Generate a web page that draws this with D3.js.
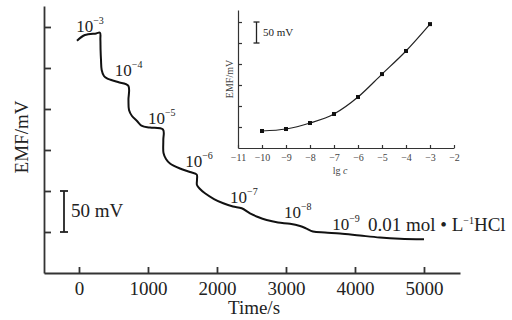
<!DOCTYPE html>
<html><head><meta charset="utf-8">
<script src="https://cdn.jsdelivr.net/npm/d3@7"></script>
<style>body{margin:0;background:#fff}svg{display:block}text{font-family:"Liberation Serif","Times New Roman",serif}</style>
</head><body><svg id="c" width="512" height="320"></svg>
<script>
// Main trace: time (s) vs EMF (mV, relative)
const mainTime = [-29,87,250,304,310,313,319,329,362,406,565,714,717,725,768,841,913,1029,1217,1222,1225,1261,1319,1464,1609,1706,1710,1710,1754,1826,1957,2091,2232,2358,2478,2594,2720,2884,3058,3203,3290,3391,3565,3783,4072,4362,4652,5000];
const mainEMF  = [233.3,240.2,242.2,243.0,235,221.9,210,197.6,190.2,187.2,182.9,178.4,161,148.8,141.5,135.4,129.3,127.4,125,112,96.3,89,83.5,77.4,73.2,70.1,63.4,57.3,52.4,47.2,40.2,35,31.1,28.9,22.8,18.3,14.6,11.6,10,7.3,4.5,0.6,-0.7,-1.8,-4.3,-6.7,-8.2,-8.9];
const mainXTicks = [0,1000,2000,3000,4000,5000];
const mainYTicks = [0,50,100,150,200,250];
// Concentration step labels (exponent, time, EMF where label sits)
const stepExp  = ["−3","−4","−5","−6","−7","−8","−9"];
const stepTime = [-40,520,1000,1540,2190,2970,3670];
const stepEMF  = [244,190,132,79,35,17,2.5];
// Inset: lg c vs EMF
const insetLgC = [-10,-9,-8,-7,-6,-5,-4,-3];
const insetEMF = [40.5,45.2,59.5,81,121.4,176,231,295];
const insetXTicks = [-11,-10,-9,-8,-7,-6,-5,-4,-3,-2];
const insetYTicks = [50,100,150,200,250,300];

const svg = d3.select("#c");
const axisCol = "#333";

// ---------- main chart ----------
const x = d3.scaleLinear().domain([-507,5522]).range([44,460]);
const y = d3.scaleLinear().domain([-50,275.6]).range([273,6]);

const gx = svg.append("g").attr("transform",`translate(0,${y(-50)})`)
  .call(d3.axisBottom(x).tickValues(mainXTicks).tickSizeInner(-6).tickSizeOuter(0).tickPadding(13).tickFormat(d3.format("d")));
gx.select(".domain").attr("stroke",axisCol).attr("stroke-width",1.8);
gx.selectAll(".tick line").attr("stroke",axisCol).attr("stroke-width",1.8);
gx.selectAll("text").attr("font-size",19).attr("fill","#222").attr("dy","0.71em").attr("y",9);

const gy = svg.append("g").attr("transform",`translate(${x(-507)},0)`)
  .call(d3.axisLeft(y).tickValues(mainYTicks).tickSizeInner(-7).tickSizeOuter(0).tickFormat(""));
gy.select(".domain").attr("stroke",axisCol).attr("stroke-width",1.8);
gy.selectAll(".tick line").attr("stroke",axisCol).attr("stroke-width",1.8);

svg.append("path").attr("d", d3.line().x(i=>x(mainTime[i])).y(i=>y(mainEMF[i])).curve(d3.curveCatmullRom.alpha(0.5))(d3.range(mainTime.length)))
  .attr("fill","none").attr("stroke","#111").attr("stroke-width",2);

svg.append("text").attr("x",254).attr("y",314).attr("text-anchor","middle").attr("font-size",19).attr("fill","#222").text("Time/s");
svg.append("text").attr("transform","translate(28,137) rotate(-90)").attr("text-anchor","middle").attr("font-size",19).attr("fill","#222").text("EMF/mV");

// scale bar 50 mV
const sbx = 64;
const sb = svg.append("g").attr("stroke","#222").attr("stroke-width",1.8);
sb.append("line").attr("x1",sbx).attr("x2",sbx).attr("y1",y(50)).attr("y2",y(0));
sb.append("line").attr("x1",sbx-4).attr("x2",sbx+4).attr("y1",y(50)).attr("y2",y(50));
sb.append("line").attr("x1",sbx-4).attr("x2",sbx+4).attr("y1",y(0)).attr("y2",y(0));
svg.append("text").attr("x",71).attr("y",217).attr("font-size",19).attr("fill","#222").text("50 mV");

// step labels
stepExp.forEach((e,i)=>{
  const t = svg.append("text").attr("x",x(stepTime[i])).attr("y",y(stepEMF[i])).attr("font-size",17).attr("fill","#222");
  t.append("tspan").text("10");
  t.append("tspan").attr("font-size",10).attr("dy",-8).text(e);
});
const hcl = svg.append("text").attr("x",368).attr("y",231).attr("font-size",19).attr("fill","#222");
hcl.append("tspan").text("0.01 mol • L");
hcl.append("tspan").attr("font-size",10).attr("dy",-7).text("−1");
hcl.append("tspan").attr("dy",7).text("HCl");

// ---------- inset ----------
const ix = d3.scaleLinear().domain([-11,-2]).range([238,454]);
const iy = d3.scaleLinear().domain([0,328.6]).range([148,10]);
const igx = svg.append("g").attr("transform",`translate(0,148)`)
  .call(d3.axisBottom(ix).tickValues(insetXTicks).tickSizeInner(-3).tickSizeOuter(0).tickPadding(6).tickFormat(d=>d3.format("d")(d).replace("-","−")));
igx.select(".domain").attr("stroke",axisCol).attr("stroke-width",1.2);
igx.selectAll(".tick line").attr("stroke",axisCol).attr("stroke-width",1.2);
igx.selectAll("text").attr("font-size",10).attr("fill","#444");
const igy = svg.append("g").attr("transform",`translate(238,0)`)
  .call(d3.axisLeft(iy).tickValues(insetYTicks).tickSizeInner(-4).tickSizeOuter(0).tickFormat(""));
igy.select(".domain").attr("stroke",axisCol).attr("stroke-width",1.2);
igy.selectAll(".tick line").attr("stroke",axisCol).attr("stroke-width",1.2);

svg.append("path").attr("d", d3.line().x(i=>ix(insetLgC[i])).y(i=>iy(insetEMF[i])).curve(d3.curveMonotoneX)(d3.range(insetLgC.length)))
  .attr("fill","none").attr("stroke","#222").attr("stroke-width",1.2);
svg.selectAll("rect.pt").data(d3.range(insetLgC.length)).join("rect").attr("class","pt")
  .attr("x",i=>ix(insetLgC[i])-2).attr("y",i=>iy(insetEMF[i])-2).attr("width",4).attr("height",4).attr("fill","#111");

const t2 = svg.append("text").attr("x",340).attr("y",174).attr("text-anchor","middle").attr("font-size",10).attr("fill","#444");
t2.append("tspan").text("lg ");
t2.append("tspan").attr("font-style","italic").text("c");
svg.append("text").attr("transform","translate(233,79) rotate(-90)").attr("text-anchor","middle").attr("font-size",10).attr("fill","#444").text("EMF/mV");

const ib = svg.append("g").attr("stroke","#222").attr("stroke-width",1.3);
ib.append("line").attr("x1",256.5).attr("x2",256.5).attr("y1",iy(300)).attr("y2",iy(250));
ib.append("line").attr("x1",253.5).attr("x2",259.5).attr("y1",iy(300)).attr("y2",iy(300));
ib.append("line").attr("x1",253.5).attr("x2",259.5).attr("y1",iy(250)).attr("y2",iy(250));
svg.append("text").attr("x",263).attr("y",36).attr("font-size",11).attr("fill","#222").text("50 mV");
</script></body></html>
